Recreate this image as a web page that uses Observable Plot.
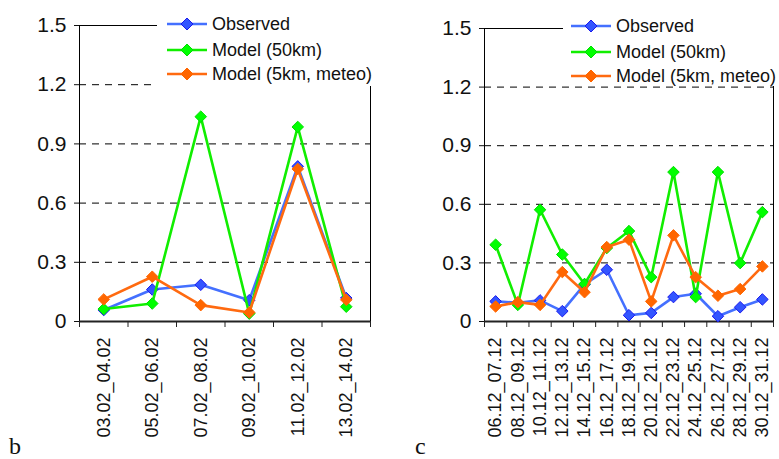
<!DOCTYPE html>
<html>
<head>
<meta charset="utf-8">
<script src="https://cdn.jsdelivr.net/npm/d3@7"></script>
<script src="https://cdn.jsdelivr.net/npm/@observablehq/plot@0.6"></script>
<style>
  body { margin: 0; background: #fff; }
  #wrap { position: relative; width: 779px; height: 459px; overflow: hidden; font-family: "Liberation Sans", Arial, sans-serif; }
  .panel { position: absolute; top: 0; }
  .legend { position: absolute; top: 0; background: #fff; height: 86px; }
  .legend .row { position: absolute; left: 0; display: flex; align-items: center; height: 20px; font-size: 18px; color: #111; white-space: nowrap; }
  .legend svg { margin-right: 5px; }
  .lab { position: absolute; font-family: "Liberation Serif", "Times New Roman", serif; font-size: 24px; line-height: 24px; color: #111; }
</style>
</head>
<body>
<div id="wrap"></div>
<script>
// ---- data ----
const seriesNames = ["Observed", "Model (50km)", "Model (5km, meteo)"];
const seriesColors = ["#4470ff", "#11ee00", "#ff6a10"];
const markerFill = ["#3355ff", "#00ff00", "#ff6600"];
const markerStroke = ["#1a1aee", "#00dd00", "#ff6600"];

const yTicks = [0, 0.3, 0.6, 0.9, 1.2, 1.5];

const catsB = ["03.02_04.02", "05.02_06.02", "07.02_08.02", "09.02_10.02", "11.02_12.02", "13.02_14.02"];
const observedB = [0.058, 0.162, 0.186, 0.108, 0.786, 0.119];
const model50B = [0.063, 0.091, 1.038, 0.040, 0.986, 0.075];
const model5B = [0.112, 0.227, 0.083, 0.046, 0.773, 0.110];

const catsC = ["06.12_07.12", "08.12_09.12", "10.12_11.12", "12.12_13.12", "14.12_15.12", "16.12_17.12", "18.12_19.12", "20.12_21.12", "22.12_23.12", "24.12_25.12", "26.12_27.12", "28.12_29.12", "30.12_31.12"];
const observedC = [0.103, 0.096, 0.108, 0.053, 0.190, 0.265, 0.032, 0.044, 0.125, 0.142, 0.027, 0.073, 0.113];
const model50C = [0.393, 0.085, 0.572, 0.343, 0.192, 0.376, 0.463, 0.227, 0.765, 0.125, 0.765, 0.299, 0.560];
const model5C = [0.077, 0.099, 0.085, 0.253, 0.150, 0.381, 0.419, 0.103, 0.441, 0.227, 0.132, 0.166, 0.282];

const panelLabels = ["b", "c"];

// ---- drawing ----
function makeChart(cats, seriesValues, opts) {
  const n = cats.length;
  const idx = d3.range(n);
  const marks = [
    Plot.ruleY([0.3, 0.6, 0.9, 1.2], {stroke: "#000", strokeWidth: 1, strokeDasharray: "7,6"}),
    Plot.ruleY([1.5], {stroke: "#000", strokeWidth: 1}),
    Plot.ruleX([0], {stroke: "#000", strokeWidth: 1}),
    Plot.ruleX([n], {stroke: "#000", strokeWidth: 1}),
    Plot.axisY({ticks: yTicks, tickSize: 5, tickPadding: 8, fontSize: 21, tickFormat: d => d === 0 ? "0" : d.toFixed(1), color: "#111"}),
    Plot.axisX(d3.range(n + 1), {tickSize: 6, tickFormat: () => "", stroke: "#222"}),
    Plot.axisX(idx.map(i => i + 0.5), {tickSize: 0, tickPadding: 16, tickRotate: -90, fontSize: 18, tickFormat: d => cats[Math.round(d - 0.5)], color: "#111"}),
    Plot.ruleY([0], {stroke: "#222", strokeWidth: 2})
  ];
  seriesValues.forEach((vals, s) => {
    marks.push(Plot.line(idx, {x: i => i + 0.5, y: i => vals[i], stroke: seriesColors[s], strokeWidth: 2.6}));
    marks.push(Plot.dot(idx, {x: i => i + 0.5, y: i => vals[i], symbol: "diamond2", r: 5.2, fill: markerFill[s], stroke: markerStroke[s], strokeWidth: 1}));
  });
  return Plot.plot({
    width: opts.width,
    height: 459,
    marginLeft: opts.marginLeft,
    marginRight: opts.marginRight,
    marginTop: opts.marginTop,
    marginBottom: opts.marginBottom,
    x: {domain: [0, n]},
    y: {domain: [0, 1.5]},
    style: {fontFamily: "'Liberation Sans', Arial, sans-serif", background: "transparent", overflow: "visible"},
    marks
  });
}

function makeLegend(opts) {
  const lg = document.createElement("div");
  lg.className = "legend";
  lg.style.left = opts.left + "px";
  lg.style.width = opts.width + "px";
  seriesNames.forEach((name, s) => {
    const row = document.createElement("div");
    row.className = "row";
    row.style.top = (opts.rowTops[s] - 10) + "px";
    row.style.left = opts.swatchLeft + "px";
    row.innerHTML = `<svg width="40" height="16" viewBox="0 0 40 16"><line x1="0" y1="8" x2="40" y2="8" stroke="${seriesColors[s]}" stroke-width="2.6"/><path d="M20 2 L26 8 L20 14 L14 8 Z" fill="${markerFill[s]}" stroke="${markerStroke[s]}" stroke-width="1"/></svg><span>${name}</span>`;
    lg.appendChild(row);
  });
  return lg;
}

const wrap = document.getElementById("wrap");

const p1 = document.createElement("div");
p1.className = "panel"; p1.style.left = "0px";
p1.appendChild(makeChart(catsB, [observedB, model50B, model5B], {width: 390, marginLeft: 79, marginRight: 20, marginTop: 25, marginBottom: 138}));
wrap.appendChild(p1);
wrap.appendChild(makeLegend({left: 157, width: 222, swatchLeft: 10, rowTops: [24, 50, 74]}));

const p2 = document.createElement("div");
p2.className = "panel"; p2.style.left = "390px";
p2.appendChild(makeChart(catsC, [observedC, model50C, model5C], {width: 389, marginLeft: 94, marginRight: 6, marginTop: 28, marginBottom: 138}));
wrap.appendChild(p2);
wrap.appendChild(makeLegend({left: 563, width: 216, swatchLeft: 8, rowTops: [26, 52, 76]}));

panelLabels.forEach((t, i) => {
  const d = document.createElement("div");
  d.className = "lab";
  d.textContent = t;
  d.style.left = (i === 0 ? 9 : 415) + "px";
  d.style.top = "434px";
  wrap.appendChild(d);
});
</script>
</body>
</html>
